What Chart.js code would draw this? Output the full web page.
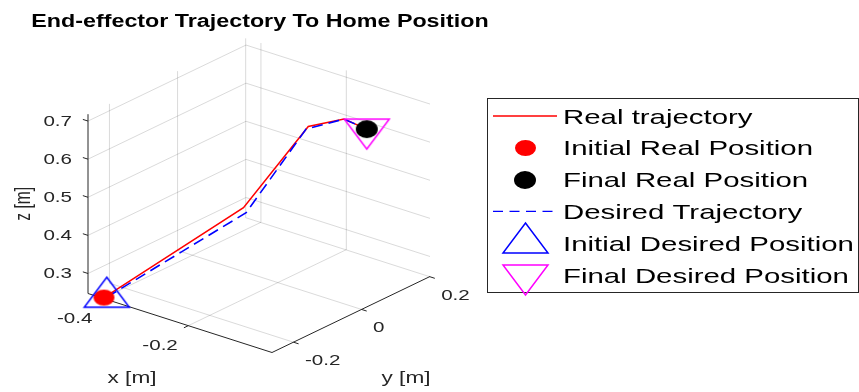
<!DOCTYPE html>
<html>
<head>
<meta charset="utf-8">
<script src="https://cdn.jsdelivr.net/npm/chart.js@4.4.1/dist/chart.umd.min.js"></script>
<style>
  html, body { margin: 0; padding: 0; background: #ffffff; }
  #wrap { width: 859px; height: 392px; }
</style>
</head>
<body>
<div id="wrap"><canvas id="plot" width="859" height="392"></canvas></div>
<script>
// End-effector samples in metres (x, y, z)
const realX = [-0.400, -0.275, -0.132, -0.081, -0.042];
const realY = [-0.260, -0.007,  0.004,  0.045,  0.063];
const realZ = [ 0.248,  0.420,  0.680,  0.700,  0.680];

const desX = [-0.395, -0.268, -0.133, -0.081, -0.042];
const desY = [-0.258, -0.008, -0.001,  0.045,  0.063];
const desZ = [ 0.250,  0.410,  0.675,  0.700,  0.680];

// axis limits and tick values
const xLim = [-0.435, -0.004];
const yLim = [-0.263, 0.201];
const zLim = [0.2475, 0.718];
const xTicks = [-0.4, -0.2];
const yTicks = [-0.2, 0, 0.2];
const zTicks = [0.3, 0.4, 0.5, 0.6, 0.7];

const titleText = 'End-effector Trajectory To Home Position';
const axisTitles = ['x [m]', 'y [m]', 'z [m]'];
const seriesNames = ['Real trajectory', 'Initial Real Position', 'Final Real Position',
                     'Desired Trajectory', 'Initial Desired Position', 'Final Desired Position'];

// ---- oblique view of the unit box: screen direction of each axis ----
const VIEW = { ex: [184, -59], ey: [158, 76], ez: [0, 179.3] };
function project(x, y, z) {
  const u = (x - xLim[0]) / (xLim[1] - xLim[0]);
  const v = (y - yLim[0]) / (yLim[1] - yLim[0]);
  const w = (z - zLim[0]) / (zLim[1] - zLim[0]);
  return {
    x: u * VIEW.ex[0] + v * VIEW.ey[0] + w * VIEW.ez[0],
    y: u * VIEW.ex[1] + v * VIEW.ey[1] + w * VIEW.ez[1]
  };
}
function track(xs, ys, zs) { return xs.map((_, i) => project(xs[i], ys[i], zs[i])); }

// ---- marker sprites ----
function ellipseMarker(fill, w, h) {
  const c = document.createElement('canvas');
  c.width = Math.ceil(w) + 2; c.height = Math.ceil(h) + 2;
  const g = c.getContext('2d');
  g.fillStyle = fill;
  g.beginPath();
  g.ellipse(c.width / 2, c.height / 2, w / 2, h / 2, 0, 0, Math.PI * 2);
  g.fill();
  return c;
}
function triangleMarker(stroke, w, h, up) {
  const m = 2;
  const c = document.createElement('canvas');
  c.width = Math.ceil(w + 2 * m);
  c.height = Math.ceil(2 * (2 * h / 3 + m));
  const g = c.getContext('2d');
  const cx = c.width / 2, cy = c.height / 2;   // centroid
  const apexY = up ? cy - 2 * h / 3 : cy + 2 * h / 3;
  const baseY = up ? cy + h / 3 : cy - h / 3;
  g.strokeStyle = stroke; g.lineWidth = 1.5;
  g.beginPath();
  g.moveTo(cx, apexY); g.lineTo(cx + w / 2, baseY); g.lineTo(cx - w / 2, baseY);
  g.closePath(); g.stroke();
  return c;
}
const redDot = ellipseMarker('#ff0000', 21, 16);
const blackDot = ellipseMarker('#000000', 22, 18);
const blueTri = triangleMarker('#0000ff', 45, 30, true);
const magentaTri = triangleMarker('#ff00ff', 45, 30, false);

// ---- box grid, axes and ticks ----
const GRID = 'rgba(38,38,38,0.17)';
const AXIS = '#262626';
const datasets = [];
function seg(a, b, color, order) {
  datasets.push({
    data: [project(...a), project(...b)], showLine: true, borderColor: color,
    borderWidth: 1, pointRadius: 0, fill: false, order: order, clip: false
  });
}
const [x0, x1] = xLim, [y0, y1] = yLim, [z0, z1] = zLim;
// floor
xTicks.forEach(x => seg([x, y0, z0], [x, y1, z0], GRID, 100));
yTicks.forEach(y => seg([x0, y, z0], [x1, y, z0], GRID, 100));
// back wall at x = xmin
yTicks.forEach(y => seg([x0, y, z0], [x0, y, z1], GRID, 100));
zTicks.forEach(z => seg([x0, y0, z], [x0, y1, z], GRID, 100));
// back wall at y = ymax
xTicks.forEach(x => seg([x, y1, z0], [x, y1, z1], GRID, 100));
zTicks.forEach(z => seg([x0, y1, z], [x1, y1, z], GRID, 100));
// axis lines
seg([x0, y0, z0], [x1, y0, z0], AXIS, 90);
seg([x1, y0, z0], [x1, y1, z0], AXIS, 90);
seg([x0, y0, z0], [x0, y0, z1], AXIS, 90);
// tick marks
const tx = 0.028 * (x1 - x0), ty = 0.028 * (y1 - y0);
zTicks.forEach(z => seg([x0, y0, z], [x0 - tx, y0, z], AXIS, 90));
xTicks.forEach(x => seg([x, y0, z0], [x, y0 - ty, z0], AXIS, 90));
yTicks.forEach(y => seg([x1, y, z0], [x1 + tx, y, z0], AXIS, 90));

const realPts = track(realX, realY, realZ);
const desPts = track(desX, desY, desZ);

datasets.push({ label: seriesNames[0], data: realPts, showLine: true, borderColor: '#ff0000',
  borderWidth: 1.5, pointRadius: 0, fill: false, order: 50, clip: false });
datasets.push({ label: seriesNames[3], data: desPts, showLine: true, borderColor: '#0000ff',
  borderWidth: 1.6, borderDash: [11, 6], pointRadius: 0, fill: false, order: 40, clip: false });
datasets.push({ label: seriesNames[1], data: [realPts[0]], pointStyle: redDot, pointRadius: 10,
  order: 30, clip: false });
datasets.push({ label: seriesNames[2], data: [realPts[realPts.length - 1]], pointStyle: blackDot,
  pointRadius: 10, order: 30, clip: false });
datasets.push({ label: seriesNames[4], data: [desPts[0]], pointStyle: blueTri, pointRadius: 15,
  order: 20, clip: false });
datasets.push({ label: seriesNames[5], data: [desPts[desPts.length - 1]], pointStyle: magentaTri,
  pointRadius: 15, order: 20, clip: false });

// ---- text and legend ----
const FONT = '"Liberation Sans", Arial, Helvetica, sans-serif';
function text(ctx, str, x, y, opts) {
  ctx.save();
  ctx.translate(x, y);
  ctx.scale(opts.sx || 1, 1);
  if (opts.rot) ctx.rotate(opts.rot);
  ctx.font = opts.font;
  ctx.fillStyle = opts.color || '#262626';
  ctx.textAlign = opts.align || 'left';
  ctx.textBaseline = opts.baseline || 'alphabetic';
  ctx.fillText(str, 0, 0);
  ctx.restore();
}

const annotate = {
  id: 'annotate',
  afterDraw(chart) {
    const ctx = chart.ctx;
    const sx = chart.scales.x, sy = chart.scales.y;
    const px = p => ({ x: sx.getPixelForValue(p.x), y: sy.getPixelForValue(p.y) });
    const tickFont = '14.5px ' + FONT;
    const labelFont = '15.6px ' + FONT;

    // title
    text(ctx, titleText, 260, 26.7, { font: 'bold 17.5px ' + FONT, sx: 1.33, align: 'center', color: '#000' });

    // tick labels
    zTicks.forEach(z => {
      const p = px(project(x0, y0, z));
      text(ctx, z.toFixed(1), p.x - 16, p.y + 5, { font: tickFont, sx: 1.42, align: 'right' });
    });
    xTicks.forEach(x => {
      const p = px(project(x, y0, z0));
      text(ctx, x.toFixed(1), p.x - 10.5, p.y + 24.3, { font: tickFont, sx: 1.42, align: 'right' });
    });
    yTicks.forEach(y => {
      const p = px(project(x1, y, z0));
      text(ctx, y === 0 ? '0' : y.toFixed(1), p.x + 11.5, p.y + 23, { font: tickFont, sx: 1.42, align: 'left' });
    });

    // axis titles
    const xm = px(project((x0 + x1) / 2, y0, z0));
    text(ctx, axisTitles[0], xm.x - 48, xm.y + 60, { font: labelFont, sx: 1.45, align: 'center' });
    const ym = px(project(x1, (y0 + y1) / 2, z0));
    text(ctx, axisTitles[1], ym.x + 55, ym.y + 68, { font: labelFont, sx: 1.45, align: 'center' });
    const zm = px(project(x0, y0, (z0 + z1) / 2));
    text(ctx, axisTitles[2], zm.x - 58, zm.y, { font: labelFont, sx: 1.45, align: 'center', rot: -Math.PI / 2 });

    // legend
    const box = { l: 487.5, t: 98.5, r: 858.5, b: 292.5 };
    ctx.save();
    ctx.fillStyle = '#ffffff';
    ctx.fillRect(box.l, box.t, box.r - box.l, box.b - box.t);
    ctx.strokeStyle = '#262626'; ctx.lineWidth = 1;
    ctx.strokeRect(box.l, box.t, box.r - box.l, box.b - box.t);
    ctx.restore();

    const rowBase = i => 123.5 + 31.8 * i;
    const mx = 525;
    const samples = [
      { kind: 'line', color: '#ff0000', dash: [] },
      { kind: 'img', img: redDot },
      { kind: 'img', img: blackDot },
      { kind: 'line', color: '#0000ff', dash: [10, 6.5] },
      { kind: 'img', img: blueTri },
      { kind: 'img', img: magentaTri }
    ];
    seriesNames.forEach((name, i) => {
      const cy = rowBase(i) - 7.5;
      const s = samples[i];
      ctx.save();
      if (s.kind === 'line') {
        ctx.strokeStyle = s.color; ctx.lineWidth = 1.4; ctx.setLineDash(s.dash);
        ctx.beginPath(); ctx.moveTo(493, cy); ctx.lineTo(557, cy); ctx.stroke();
      } else {
        ctx.drawImage(s.img, Math.round(mx - s.img.width / 2), Math.round(cy - s.img.height / 2));
      }
      ctx.restore();
      text(ctx, name, 563, rowBase(i), { font: '21px ' + FONT, sx: 1.40, align: 'left', color: '#000' });
    });
  }
};

new Chart(document.getElementById('plot'), {
  type: 'scatter',
  data: { datasets },
  options: {
    responsive: false,
    animation: false,
    events: [],
    layout: { padding: 0, autoPadding: false },
    plugins: { legend: { display: false }, title: { display: false }, tooltip: { enabled: false } },
    scales: {
      x: { type: 'linear', display: false, min: -88, max: 771 },
      y: { type: 'linear', display: false, min: -98.5, max: 293.5 }
    }
  },
  plugins: [annotate]
});
</script>
</body>
</html>
